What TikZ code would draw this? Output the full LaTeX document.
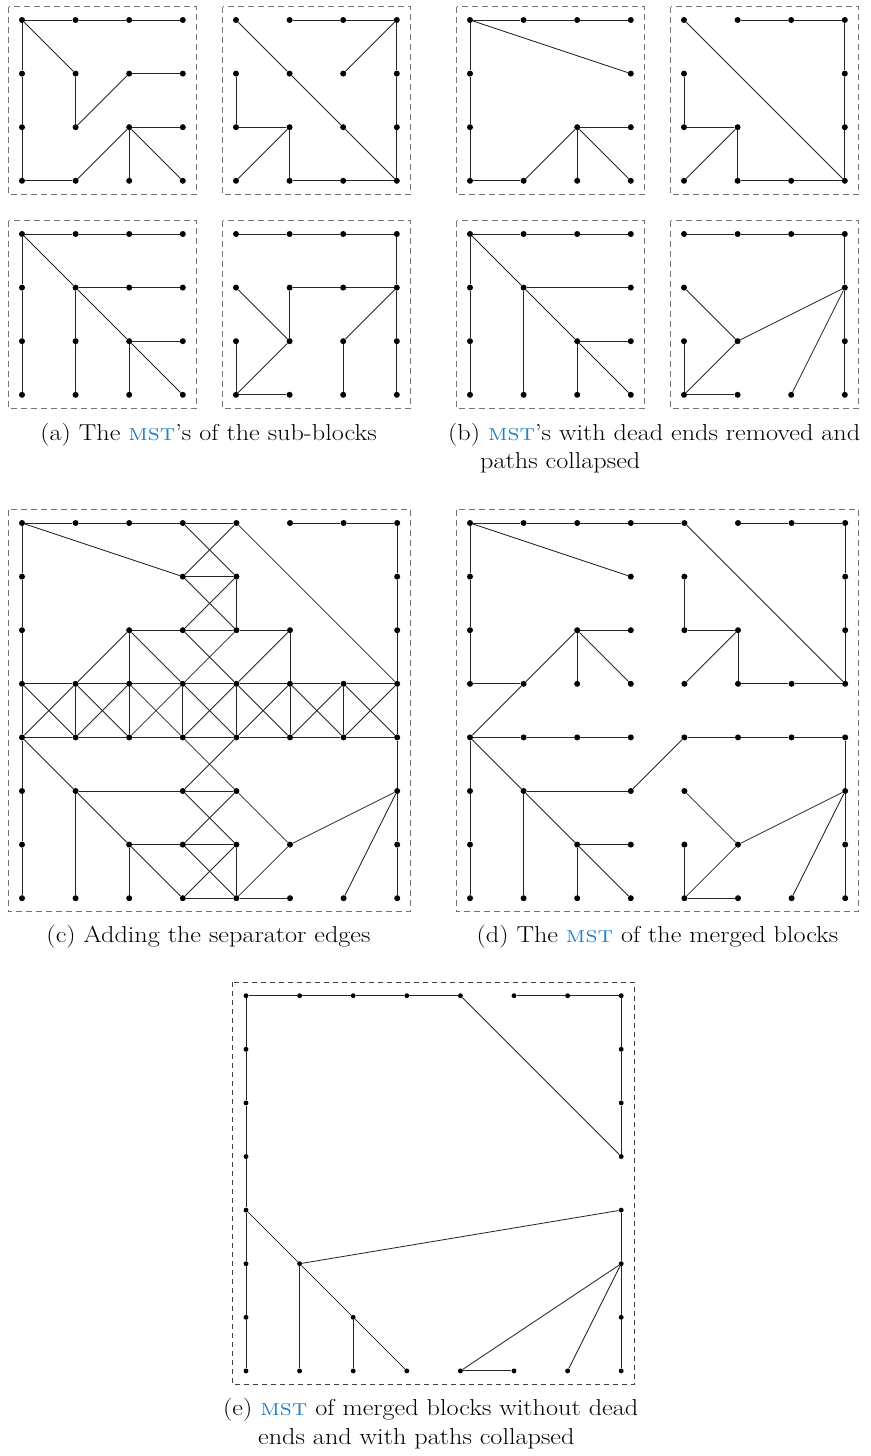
\documentclass[tikz,border=0pt]{standalone}
\usepackage{fontspec}
\definecolor{mstblue}{RGB}{30,130,200}
\definecolor{boxgray}{RGB}{115,115,115}
\newcommand\mst{\textcolor{mstblue}{\textsc{mst}}}
\newcommand\captxt[1]{\scalebox{1.14}[1]{#1}}
\newcommand\mkdots[5]{\foreach \i/\j in {#5} \node[#4] (#1-\i-\j) at ({#2+\i*53.6},{#3+\j*53.6}) {};}
\newcommand\mkedges[2]{\foreach \a/\b in {#2} \draw[lnk] (#1-\a) -- (#1-\b);}
\newcommand\mkbox[5]{\draw[#5] ({#2-13.5},{#3-13.5}) rectangle ({#2+#4*53.6+13.5},{#3+#4*53.6+13.5});}
\tikzset{
  gdot/.style={circle,fill=black,inner sep=0pt,minimum size=6pt},
  gsmalldot/.style={circle,fill=black,inner sep=0pt,minimum size=4.9pt},
  lnk/.style={draw=black!85,line width=0.85pt},
  dbox/.style={draw=boxgray,dash pattern=on 6pt off 4pt,line width=1pt},
  dboxe/.style={draw=black!75,dash pattern=on 5pt off 4pt,line width=0.9pt},
  captext/.style={inner sep=0pt,font=\fontsize{23}{28}\selectfont}
}
\begin{document}
\begin{tikzpicture}[x=1pt,y=-1pt]
\useasboundingbox (0,0) rectangle (870,1456);
% ---------- (a) ----------
\mkbox{A}{22}{20}{3}{dbox}
\mkdots{A}{22}{20}{gdot}{0/0,1/0,2/0,3/0,0/1,1/1,2/1,3/1,0/2,1/2,2/2,3/2,0/3,1/3,2/3,3/3}
\mkedges{A}{0-0/1-0,1-0/2-0,2-0/3-0,0-0/1-1,0-0/0-1,0-1/0-2,0-2/0-3,1-1/1-2,1-2/2-1,2-1/3-1,2-2/3-2,2-2/1-3,2-2/2-3,2-2/3-3,0-3/1-3}
\mkbox{B}{236}{20}{3}{dbox}
\mkdots{B}{236}{20}{gdot}{0/0,1/0,2/0,3/0,0/1,1/1,2/1,3/1,0/2,1/2,2/2,3/2,0/3,1/3,2/3,3/3}
\mkedges{B}{0-0/1-1,1-1/2-2,2-2/3-3,1-0/2-0,2-0/3-0,3-0/2-1,3-0/3-1,3-1/3-2,3-2/3-3,0-1/0-2,0-2/1-2,1-2/0-3,1-2/1-3,1-3/2-3,2-3/3-3}
\mkbox{C}{22}{234}{3}{dbox}
\mkdots{C}{22}{234}{gdot}{0/0,1/0,2/0,3/0,0/1,1/1,2/1,3/1,0/2,1/2,2/2,3/2,0/3,1/3,2/3,3/3}
\mkedges{C}{0-0/1-0,1-0/2-0,2-0/3-0,0-0/0-1,0-1/0-2,0-2/0-3,0-0/1-1,1-1/2-2,2-2/3-3,1-1/2-1,2-1/3-1,1-1/1-2,1-2/1-3,2-2/3-2,2-2/2-3}
\mkbox{D}{236}{234}{3}{dbox}
\mkdots{D}{236}{234}{gdot}{0/0,1/0,2/0,3/0,0/1,1/1,2/1,3/1,0/2,1/2,2/2,3/2,0/3,1/3,2/3,3/3}
\mkedges{D}{0-0/1-0,1-0/2-0,2-0/3-0,3-0/3-1,3-1/3-2,3-2/3-3,1-1/2-1,2-1/3-1,1-1/1-2,0-1/1-2,1-2/0-3,0-2/0-3,0-3/1-3,3-1/2-2,2-2/2-3}
% ---------- (b) ----------
\mkbox{E}{470}{20}{3}{dbox}
\mkdots{E}{470}{20}{gdot}{0/0,1/0,2/0,3/0,0/1,3/1,0/2,2/2,3/2,0/3,1/3,2/3,3/3}
\mkedges{E}{0-0/1-0,1-0/2-0,2-0/3-0,0-0/3-1,0-0/0-1,0-1/0-2,0-2/0-3,0-3/1-3,1-3/2-2,2-2/3-2,2-2/2-3,2-2/3-3}
\mkbox{F}{684}{20}{3}{dbox}
\mkdots{F}{684}{20}{gdot}{0/0,1/0,2/0,3/0,0/1,3/1,0/2,1/2,3/2,0/3,1/3,2/3,3/3}
\mkedges{F}{0-0/3-3,1-0/2-0,2-0/3-0,3-0/3-1,3-1/3-2,3-2/3-3,0-1/0-2,0-2/1-2,1-2/0-3,1-2/1-3,1-3/2-3,2-3/3-3}
\mkbox{G}{470}{234}{3}{dbox}
\mkdots{G}{470}{234}{gdot}{0/0,1/0,2/0,3/0,0/1,1/1,3/1,0/2,2/2,3/2,0/3,1/3,2/3,3/3}
\mkedges{G}{0-0/1-0,1-0/2-0,2-0/3-0,0-0/0-1,0-1/0-2,0-2/0-3,0-0/1-1,1-1/2-2,2-2/3-3,1-1/3-1,1-1/1-3,2-2/3-2,2-2/2-3}
\mkbox{H}{684}{234}{3}{dbox}
\mkdots{H}{684}{234}{gdot}{0/0,1/0,2/0,3/0,0/1,3/1,0/2,1/2,3/2,0/3,1/3,2/3,3/3}
\mkedges{H}{0-0/1-0,1-0/2-0,2-0/3-0,3-0/3-1,3-1/3-2,3-2/3-3,3-1/1-2,0-1/1-2,1-2/0-3,0-2/0-3,0-3/1-3,3-1/2-3}
% ---------- (c) ----------
\mkbox{P}{22}{523}{7}{dbox}
\mkdots{P}{22}{523}{gdot}{0/0,1/0,2/0,3/0,4/0,5/0,6/0,7/0,0/1,3/1,4/1,7/1,0/2,2/2,3/2,4/2,5/2,7/2,0/3,1/3,2/3,3/3,4/3,5/3,6/3,7/3,0/4,1/4,2/4,3/4,4/4,5/4,6/4,7/4,0/5,1/5,3/5,4/5,7/5,0/6,2/6,3/6,4/6,5/6,7/6,0/7,1/7,2/7,3/7,4/7,5/7,6/7,7/7}
\mkedges{P}{0-0/1-0,1-0/2-0,2-0/3-0,3-0/4-0,5-0/6-0,6-0/7-0,0-0/3-1,3-0/4-1,4-0/3-1,4-0/7-3,3-1/4-1,3-1/4-2,4-1/3-2,4-1/4-2,0-0/0-1,0-1/0-2,0-2/0-3,7-0/7-1,7-1/7-2,7-2/7-3,2-2/3-2,3-2/4-2,4-2/5-2,2-2/1-3,2-2/2-3,2-2/3-3,3-2/4-3,4-2/3-3,5-2/4-3,5-2/5-3}
\foreach \i [evaluate=\i as \k using int(\i+1)] in {0,...,6} {
  \draw[lnk] (P-\i-3) -- (P-\k-3);
  \draw[lnk] (P-\i-4) -- (P-\k-4);
  \draw[lnk] (P-\i-3) -- (P-\k-4);
  \draw[lnk] (P-\k-3) -- (P-\i-4);
}
\foreach \i in {0,...,7} {\draw[lnk] (P-\i-3) -- (P-\i-4);}
\mkedges{P}{0-4/1-5,1-5/2-6,2-6/3-7,3-4/4-5,4-4/3-5,4-5/5-6,5-6/7-5,7-5/6-7,5-6/4-7,0-4/0-5,0-5/0-6,0-6/0-7,7-4/7-5,7-5/7-6,7-6/7-7,1-5/3-5,3-5/4-5,1-5/1-7,3-5/4-6,4-5/3-6,2-6/3-6,3-6/4-6,2-6/2-7,3-6/4-7,4-6/3-7,4-6/4-7,3-7/4-7,4-7/5-7}
% ---------- (d) ----------
\mkbox{Q}{470}{523}{7}{dbox}
\mkdots{Q}{470}{523}{gdot}{0/0,1/0,2/0,3/0,4/0,5/0,6/0,7/0,0/1,3/1,4/1,7/1,0/2,2/2,3/2,4/2,5/2,7/2,0/3,1/3,2/3,3/3,4/3,5/3,6/3,7/3,0/4,1/4,2/4,3/4,4/4,5/4,6/4,7/4,0/5,1/5,3/5,4/5,7/5,0/6,2/6,3/6,4/6,5/6,7/6,0/7,1/7,2/7,3/7,4/7,5/7,6/7,7/7}
\mkedges{Q}{0-0/1-0,1-0/2-0,2-0/3-0,3-0/4-0,5-0/6-0,6-0/7-0,0-0/3-1,4-0/7-3,0-0/0-1,0-1/0-2,0-2/0-3,7-0/7-1,7-1/7-2,7-2/7-3,4-1/4-2,2-2/3-2,4-2/5-2,2-2/1-3,1-3/0-4,2-2/2-3,2-2/3-3,5-2/4-3,5-2/5-3,0-3/1-3,5-3/6-3,6-3/7-3}
\mkedges{Q}{0-4/1-4,1-4/2-4,2-4/3-4,4-4/5-4,5-4/6-4,6-4/7-4,4-4/3-5,0-4/1-5,1-5/2-6,2-6/3-7,0-4/0-5,0-5/0-6,0-6/0-7,7-4/7-5,7-5/7-6,7-6/7-7,1-5/3-5,1-5/1-7,4-5/5-6,7-5/5-6,7-5/6-7,2-6/3-6,2-6/2-7,4-6/4-7,5-6/4-7,4-7/5-7}
% ---------- (e) ----------
\mkbox{R}{246}{995.7}{7}{dboxe}
\mkdots{R}{246}{995.7}{gsmalldot}{0/0,1/0,2/0,3/0,4/0,5/0,6/0,7/0,0/1,7/1,0/2,7/2,0/3,7/3,0/4,7/4,0/5,1/5,7/5,0/6,2/6,7/6,0/7,1/7,2/7,3/7,4/7,5/7,6/7,7/7}
\mkedges{R}{0-0/1-0,1-0/2-0,2-0/3-0,3-0/4-0,5-0/6-0,6-0/7-0,4-0/7-3,7-0/7-1,7-1/7-2,7-2/7-3,0-0/0-1,0-1/0-2,0-2/0-3,0-3/0-4,0-4/0-5,0-5/0-6,0-6/0-7,0-4/1-5,1-5/2-6,2-6/3-7,1-5/7-4,1-5/1-7,2-6/2-7,7-4/7-5,7-5/7-6,7-6/7-7,7-5/4-7,7-5/6-7,4-7/5-7}
% ---------- captions ----------
\node[captext,anchor=base] (capa) at (208.5,440) {\captxt{(a) The \mst’s of the sub-blocks}};
\node[captext,anchor=base west] (capb1) at (448,440) {\captxt{(b) \mst’s with dead ends removed and}};
\node[captext,anchor=base west] (capb2) at (480,468.5) {\captxt{paths collapsed}};
\node[captext,anchor=base] (capc) at (208.5,942) {\captxt{(c) Adding the separator edges}};
\node[captext,anchor=base] (capd) at (657.5,942) {\captxt{(d) The \mst\ of the merged blocks}};
\node[captext,anchor=base west] (cape1) at (223,1415) {\captxt{(e) \mst\ of merged blocks without dead}};
\node[captext,anchor=base west] (cape2) at (258,1444) {\captxt{ends and with paths collapsed}};
\end{tikzpicture}
\end{document}
